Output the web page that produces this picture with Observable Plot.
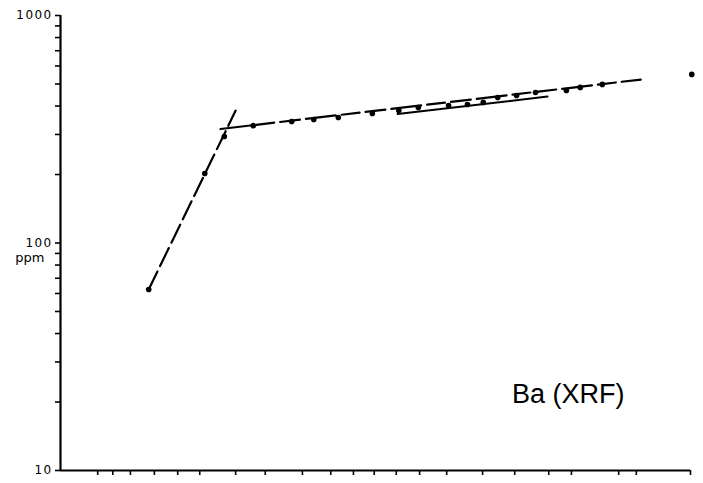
<!DOCTYPE html>
<html>
<head>
<meta charset="utf-8">
<script src="https://cdn.jsdelivr.net/npm/d3@7"></script>
<script src="https://cdn.jsdelivr.net/npm/@observablehq/plot@0.6"></script>
<style>
  html, body { margin: 0; padding: 0; background: #fff; }
  #chart { width: 703px; height: 483px; }
</style>
</head>
<body>
<div id="chart"></div>
<script>
// ---- data ----
const sampleX = [14.0, 22.9, 26.0, 30.6, 36.7, 40.2, 44.1, 49.5, 53.7, 56.8, 61.6, 64.6, 67.1, 69.4, 72.4, 75.4, 80.3, 82.5, 86.0, 100.2];
const baPpm   = [62.5, 202, 294, 328, 342, 349, 356, 371, 382, 394, 402, 406, 415, 436, 445, 459, 468, 483, 498, 551];

// fitted trend segments (end points)
const steepX = [14.0, 27.8];
const steepY = [62.5, 382];
const upperX = [25.4, 92.1];
const upperY = [317, 523];
const lowerX = [53.5, 77.3];
const lowerY = [369, 440];

const xTicks = [5.9, 8.3, 11.1, 14.9, 18.6, 22.1, 27.8, 32.5, 38.4, 42.9, 46.5, 49.8, 53.3, 57.0, 61.3, 67.0, 72.1, 77.5, 81.1, 88.6, 91.4, 100];
const yTicks = [10, 20, 30, 40, 50, 60, 70, 80, 90, 100, 200, 300, 400, 500, 600, 700, 800, 900, 1000];
const yLabels = [10, 100, 1000];
const unitLabel = "ppm";
const title = "Ba (XRF)";

const points = sampleX.map((x, i) => ({x, y: baPpm[i]}));
const seg = (xs, ys) => xs.map((x, i) => ({x, y: ys[i]}));

const chart = Plot.plot({
  width: 703,
  height: 483,
  marginLeft: 60,
  marginRight: 13,
  marginTop: 15,
  marginBottom: 13,
  style: {fontFamily: "DejaVu Sans, sans-serif", fontSize: "13px", color: "#000", background: "#fff"},
  x: {domain: [0, 100], label: null},
  y: {type: "log", domain: [10, 1000], label: null},
  marks: [
    Plot.axisY({ticks: yTicks, tickFormat: d => yLabels.includes(d) ? String(d) : "", tickSize: 5, tickPadding: 3, strokeWidth: 1.6, label: null, fontSize: 12}),
    Plot.axisX({ticks: xTicks, tickFormat: () => "", tickSize: 5, strokeWidth: 1.6, label: null}),
    Plot.ruleX([0], {strokeWidth: 2.2}),
    Plot.ruleY([10], {strokeWidth: 2.2}),
    Plot.text([unitLabel], {frameAnchor: "left", y: () => 100, text: d => d, textAnchor: "end", dx: -16, dy: 15, fontSize: 13}),
    Plot.line(seg(steepX, steepY), {x: "x", y: "y", strokeWidth: 2.2, strokeDasharray: "20,6"}),
    Plot.line(seg(upperX, upperY), {x: "x", y: "y", strokeWidth: 2.2, strokeDasharray: "30,6,18,6,20,6"}),
    Plot.line(seg(lowerX, lowerY), {x: "x", y: "y", strokeWidth: 2}),
    Plot.dot(points, {x: "x", y: "y", r: 2.8, fill: "#000", stroke: "none"}),
    Plot.text([title], {frameAnchor: "bottom-right", text: d => d, textAnchor: "end", lineAnchor: "bottom", dx: -66, dy: -68, fontSize: 27, fontFamily: "Liberation Sans, Arial, sans-serif"})
  ]
});
d3.select(chart).selectAll("text")
  .filter(function() { return /^\d+$/.test(this.textContent.trim()); })
  .attr("font-size", 12)
  .style("font-size", "12px")
  .style("letter-spacing", "1.4px");
document.getElementById("chart").appendChild(chart);
</script>
</body>
</html>
